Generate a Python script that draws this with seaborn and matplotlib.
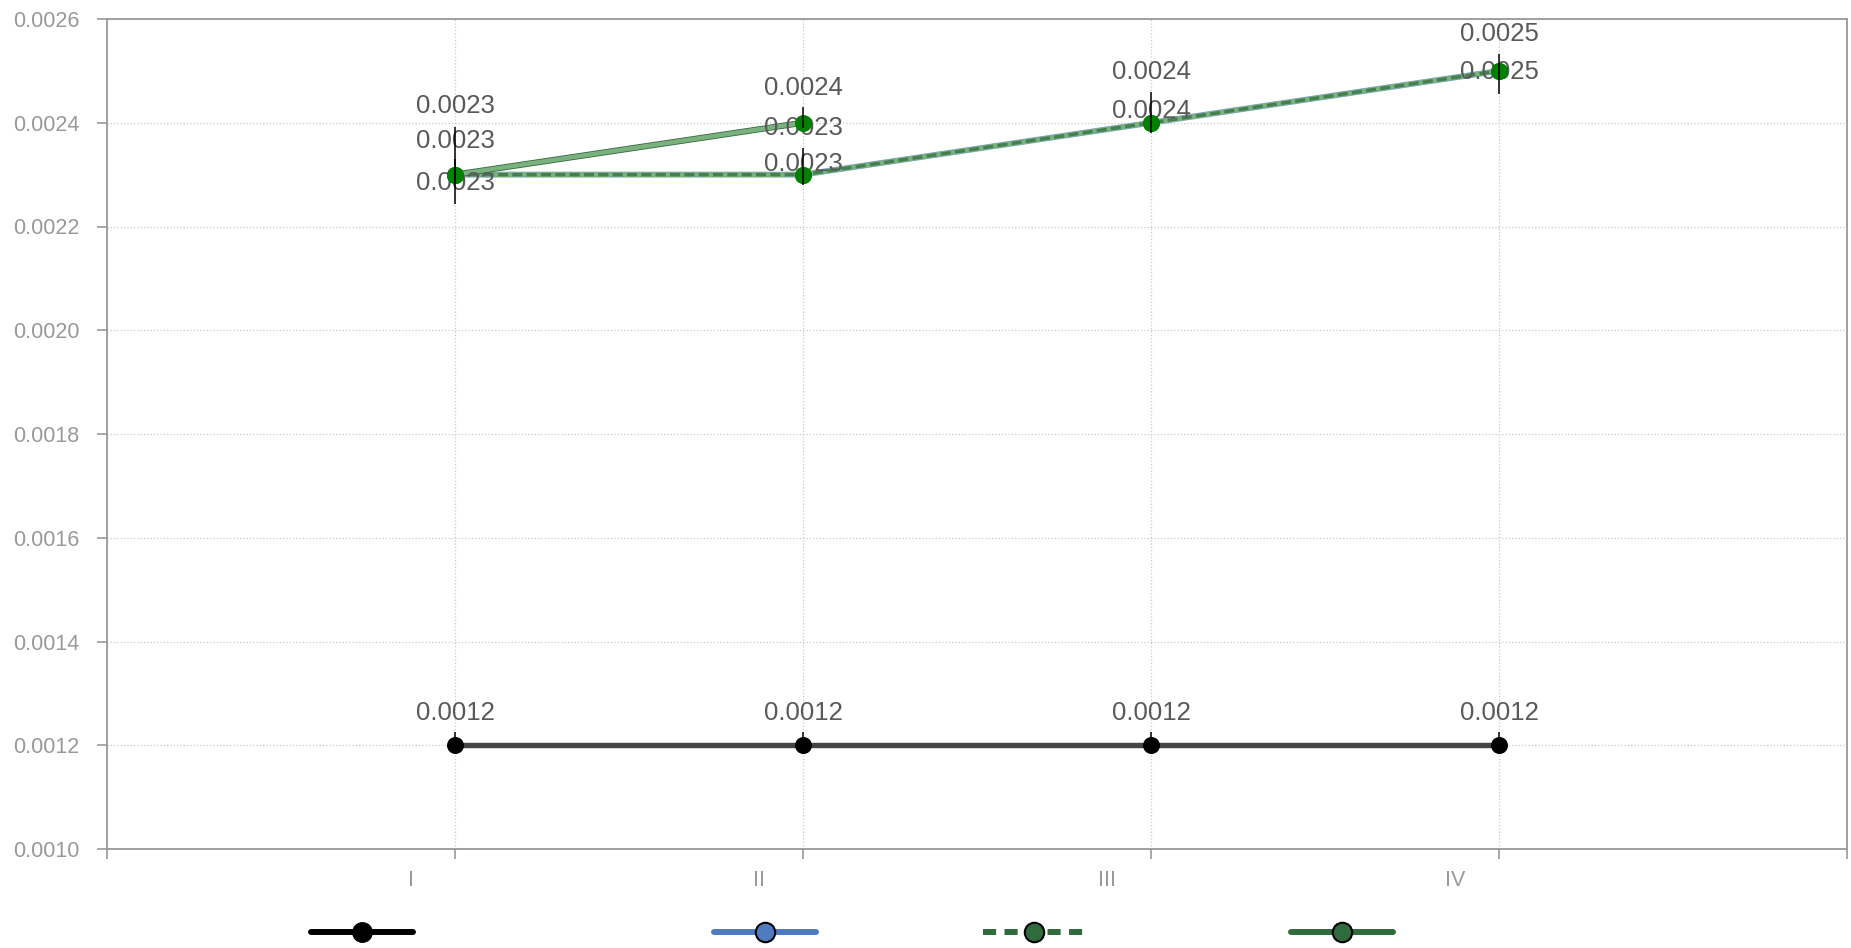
import matplotlib
matplotlib.use("Agg")
import matplotlib.pyplot as plt
import matplotlib.transforms as mtransforms
from matplotlib.lines import Line2D
import seaborn as sns
import numpy as np

categories = ["I", "II", "III", "IV"]
series_a = [0.0012, 0.0012, 0.0012, 0.0012]
series_b = [0.0023, 0.0023, 0.0024, 0.0025]
series_c = [0.0023, 0.0023, 0.0024, 0.0025]
series_d = [0.0023, 0.0024, np.nan, np.nan]

# error bars (low, high)
a_err_low = [0.0, 0.0, 0.0, 0.0]
a_err_high = [0.000025, 0.000025, 0.000025, 0.000025]
b_err_low = [0.000056, 0.00002, 0.00002, 0.000044]
b_err_high = [0.000092, 0.000052, 0.00006, 0.000033]
d_err_low = [0.00001, 0.00001, np.nan, np.nan]
d_err_high = [0.00003, 0.00003, np.nan, np.nan]

yticks = [0.0010, 0.0012, 0.0014, 0.0016, 0.0018, 0.0020, 0.0022, 0.0024, 0.0026]

# label offsets in pixels (up is positive)
off_a = [32, 32, 32, 32]
off_b = [-8, 11, 12, -1]
off_c = [69, 47, 51, 37]
off_d = [34, 35, 0, 0]

sns.set_theme(style="white")
plt.rcParams["font.family"] = ["Liberation Sans", "DejaVu Sans"]

BLACK_LINE = "#444444"
BLUE = "#7aa3dc"
DKGREEN = "#2f6b3c"
LTGREEN = "#7bb07f"
PTGREEN = "#008000"
GRAY = "#999999"

fig = plt.figure(figsize=(18.51, 9.48), dpi=100)
ax = fig.add_axes([107 / 1851, 99 / 948, 1740 / 1851, 830 / 948])

x = np.arange(1, len(categories) + 1)

# lines
sns.lineplot(x=x, y=series_a, ax=ax, color=BLACK_LINE, lw=3.9, zorder=3)
sns.lineplot(x=x, y=series_b, ax=ax, color=BLUE, lw=4.2, zorder=3)
sns.lineplot(x=x, y=series_c, ax=ax, color=LTGREEN, lw=3.5, zorder=3.1)
sns.lineplot(x=x, y=series_c, ax=ax, color=DKGREEN, lw=2.4, alpha=0.7,
             linestyle=(0, (3.0, 1.3)), zorder=3.2)
sns.lineplot(x=x, y=series_d, ax=ax, color=DKGREEN, lw=4.4, zorder=3.1)
sns.lineplot(x=x, y=series_d, ax=ax, color=LTGREEN, lw=3.2, zorder=3.2)

# labels
for vals, offs in [(series_a, off_a), (series_b, off_b), (series_c, off_c), (series_d, off_d)]:
    for xi, v, o in zip(x, vals, offs):
        if np.isnan(v):
            continue
        ax.annotate(f"{v:.4f}", (xi, v), xytext=(0, o), textcoords="offset pixels",
                    ha="center", va="center", fontsize=18.5, color="#595959", zorder=4)

# markers
sns.scatterplot(x=x, y=series_a, ax=ax, color="black", s=150, linewidth=0, zorder=5)
for vals in [series_b, series_c, series_d]:
    sns.scatterplot(x=x, y=vals, ax=ax, color=PTGREEN, s=150, linewidth=0, zorder=5)

# error bars
ax.errorbar(x, series_a, yerr=[a_err_low, a_err_high], fmt="none", ecolor="black",
            elinewidth=1.1, capsize=0, zorder=6)
ax.errorbar(x, series_b, yerr=[b_err_low, b_err_high], fmt="none", ecolor="black",
            elinewidth=1.1, capsize=0, zorder=6)
ax.errorbar(x, series_d, yerr=[d_err_low, d_err_high], fmt="none", ecolor="black",
            elinewidth=1.1, capsize=0, zorder=6)

# axes
ax.set_xlim(0, len(categories) + 1)
ax.set_ylim(yticks[0], yticks[-1])
ax.set_xticks(np.arange(0, len(categories) + 2))
ax.set_xticklabels([""] + categories + [""])
ax.set_yticks(yticks)
ax.set_yticklabels([f"{t:.4f}" for t in yticks])
ax.set_xlabel("")
ax.set_ylabel("")
ax.tick_params(axis="both", which="major", length=7, width=1.2, color=GRAY,
               labelcolor=GRAY, labelsize=15.5, direction="out")
ax.tick_params(axis="x", pad=8, bottom=True)
ax.tick_params(axis="y", pad=13, left=True)
shift = mtransforms.ScaledTranslation(-44 / 100, 0, fig.dpi_scale_trans)
for lab in ax.get_xticklabels():
    lab.set_transform(lab.get_transform() + shift)

ax.grid(True, linestyle=":", color="#c8c8c8", lw=0.9)
ax.set_axisbelow(True)
for s in ax.spines.values():
    s.set_color(GRAY)
    s.set_linewidth(1.3)
    s.set_visible(True)

# legend entries (no text)
handles = [
    Line2D([], [], color="black", lw=4.3, marker="o", markersize=14,
           markerfacecolor="black", markeredgecolor="black"),
    Line2D([], [], color="#4f7cc1", lw=4.3, marker="o", markersize=14,
           markerfacecolor="#4f7cc1", markeredgecolor="black", markeredgewidth=1.5),
    Line2D([], [], color=DKGREEN, lw=4.3, linestyle=(0, (2.2, 1.4)), marker="o",
           markersize=14, markerfacecolor=DKGREEN, markeredgecolor="black",
           markeredgewidth=1.5),
    Line2D([], [], color=DKGREEN, lw=4.3, marker="o", markersize=14,
           markerfacecolor=DKGREEN, markeredgecolor="black", markeredgewidth=1.5),
]
leg_x = [362, 765, 1034, 1342]
for h, lx in zip(handles, leg_x):
    fig.legend(handles=[h], labels=[""], loc="center",
               bbox_to_anchor=(lx / 1851, 1 - 933 / 948), frameon=False,
               handlelength=7.3, handletextpad=0, borderpad=0, borderaxespad=0,
               fontsize=10, numpoints=1)

fig.savefig("out.png", dpi=100)
